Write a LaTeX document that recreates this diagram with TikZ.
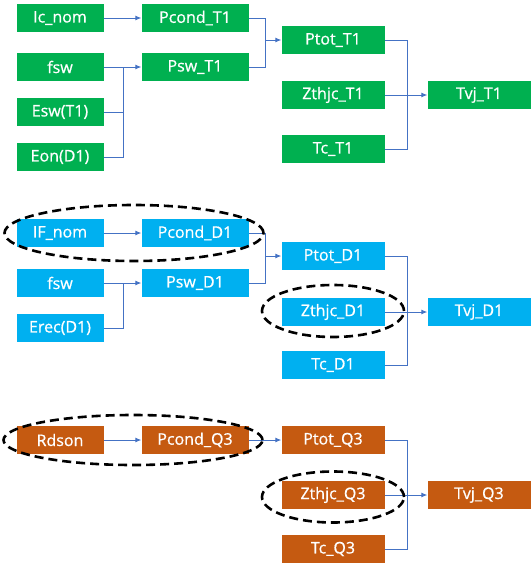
\documentclass[tikz,border=0pt]{standalone}
\usepackage{fontspec}
\setmainfont{Open Sans}
\newfontfamily\boxfont[FakeBold=0.7]{Open Sans}
\usepackage{tikz}
\usetikzlibrary{
arrows.meta,
positioning,
shapes.geometric,
calc
}
\definecolor{boxgreen}{HTML}{00B050}
\definecolor{boxblue}{HTML}{00B0F0}
\definecolor{boxorange}{HTML}{C55A11}
\definecolor{linkblue}{HTML}{4472C4}

\begin{document}
\begin{tikzpicture}[
  x=1pt, y=-1pt,
  >={Latex[length=6pt,width=5pt]},
  every node/.style={font=\boxfont\fontsize{16}{19}\selectfont},
  box/.style={draw=none, text=white, inner sep=0pt,
              minimum height=28pt, align=center},
  inbox/.style={box, minimum width=87pt},
  midbox/.style={box, minimum width=107pt},
  outbox/.style={box, minimum width=103pt},
  link/.style={draw=linkblue, line width=0.9pt},
  arrow/.style={link, ->},
  ring/.style={ellipse, draw=black, line width=2.6pt,
               dash pattern=on 9pt off 5pt, inner sep=0pt}
]
\useasboundingbox (0,0) rectangle (530,570);

%% T1 (green)
\node[inbox, fill=boxgreen] (icnom) at (60,18) {Ic\_nom};
\node[midbox, fill=boxgreen] (pcondT) at (195,18) {Pcond\_T1};
\node[inbox, fill=boxgreen] (fswT) at (60,67) {fsw};
\node[midbox, fill=boxgreen] (pswT) at (195,67) {Psw\_T1};
\node[inbox, fill=boxgreen] (eswT) at (60,112) {Esw(T1)};
\node[inbox, fill=boxgreen] (eonD) at (60,157) {Eon(D1)};
\node[outbox, fill=boxgreen] (ptotT) at (333,40) {Ptot\_T1};
\node[outbox, fill=boxgreen] (zthT) at (333,95) {Zthjc\_T1};
\node[outbox, fill=boxgreen] (tcT) at (333,149) {Tc\_T1};
\node[outbox, fill=boxgreen] (tvjT) at (479,95) {Tvj\_T1};

\coordinate (jswT) at (123,67);
\coordinate (jpT) at (265.5,40);
\coordinate (jtT) at (407,95);

\draw[arrow] (icnom.east) -- (pcondT.west);
\draw[arrow] (fswT.east) -- (pswT.west);
\draw[link] (eswT.east) -| (jswT);
\draw[link] (eonD.east) -| (jswT);
\draw[link] (pcondT.east) -| (jpT);
\draw[link] (pswT.east) -| (jpT);
\draw[arrow] (jpT) -- (ptotT.west);
\draw[link] (ptotT.east) -| (jtT);
\draw[link] (tcT.east) -| (jtT);
\draw[arrow] (zthT.east) -- (tvjT.west);

%% D1 (blue)
\node[inbox, fill=boxblue] (ifnom) at (60,233) {IF\_nom};
\node[midbox, fill=boxblue] (pcondD) at (195,233) {Pcond\_D1};
\node[inbox, fill=boxblue] (fswD) at (60,283) {fsw};
\node[midbox, fill=boxblue] (pswD) at (195,283) {Psw\_D1};
\node[inbox, fill=boxblue] (erecD) at (60,328) {Erec(D1)};
\node[outbox, fill=boxblue] (ptotD) at (333,256) {Ptot\_D1};
\node[outbox, fill=boxblue] (zthD) at (333,312) {Zthjc\_D1};
\node[outbox, fill=boxblue] (tcD) at (333,365) {Tc\_D1};
\node[outbox, fill=boxblue] (tvjD) at (479,312) {Tvj\_D1};

\coordinate (jswD) at (123,283);
\coordinate (jpD) at (265.5,256);
\coordinate (jtD) at (407,312);

\draw[arrow] (ifnom.east) -- (pcondD.west);
\draw[arrow] (fswD.east) -- (pswD.west);
\draw[link] (erecD.east) -| (jswD);
\draw[link] (pcondD.east) -| (jpD);
\draw[link] (pswD.east) -| (jpD);
\draw[arrow] (jpD) -- (ptotD.west);
\draw[link] (ptotD.east) -| (jtD);
\draw[link] (tcD.east) -| (jtD);
\draw[arrow] (zthD.east) -- (tvjD.west);

\node[ring, minimum width=259pt, minimum height=56pt] (ringcondD) at (134,233) {};
\node[ring, minimum width=142pt, minimum height=52pt] (ringzthD) at (333,311) {};

%% Q3 (orange)
\node[inbox, fill=boxorange] (rdson) at (60,440) {Rdson};
\node[midbox, fill=boxorange] (pcondQ) at (195,440) {Pcond\_Q3};
\node[outbox, fill=boxorange] (ptotQ) at (333,440) {Ptot\_Q3};
\node[outbox, fill=boxorange] (zthQ) at (333,495) {Zthjc\_Q3};
\node[outbox, fill=boxorange] (tcQ) at (333,549) {Tc\_Q3};
\node[outbox, fill=boxorange] (tvjQ) at (479,495) {Tvj\_Q3};

\coordinate (jtQ) at (407,495);

\draw[arrow] (rdson.east) -- (pcondQ.west);
\draw[arrow] (pcondQ.east) -- (ptotQ.west);
\draw[link] (ptotQ.east) -| (jtQ);
\draw[link] (tcQ.east) -| (jtQ);
\draw[arrow] (zthQ.east) -- (tvjQ.west);

\node[ring, minimum width=259pt, minimum height=50pt] (ringcondQ) at (133,440) {};
\node[ring, minimum width=142pt, minimum height=51pt] (ringzthQ) at (333,497) {};

\end{tikzpicture}
\end{document}
